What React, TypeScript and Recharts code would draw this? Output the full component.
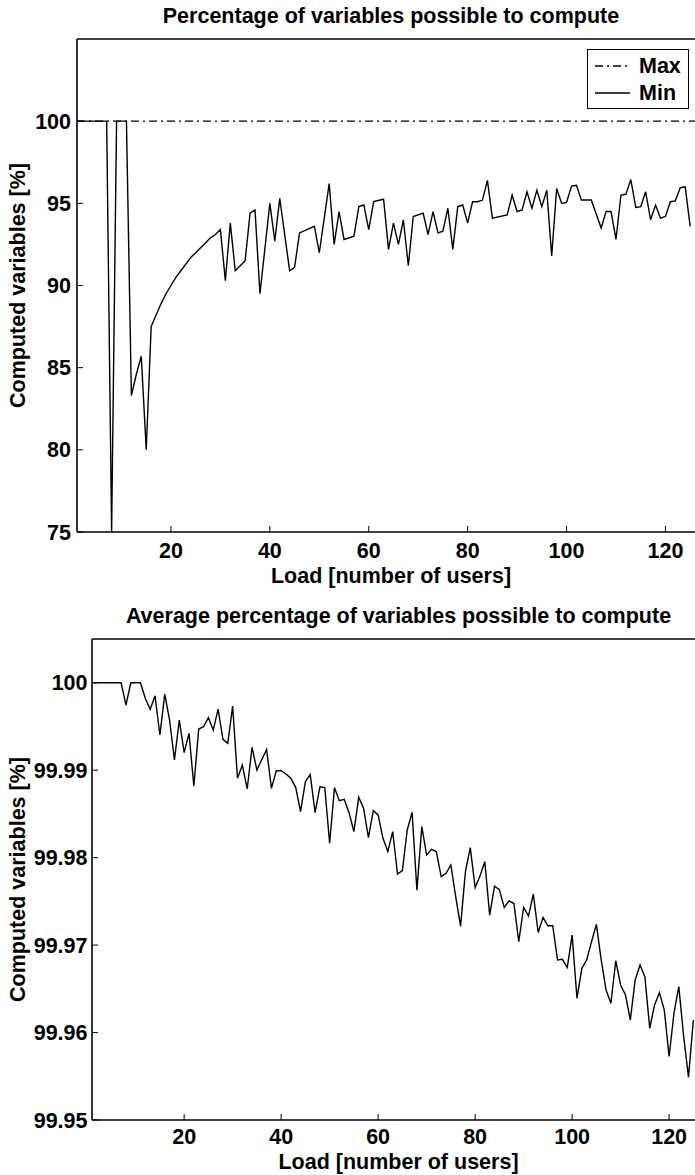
import { LineChart, Line, XAxis, YAxis, Legend, Label } from "recharts";

// Load [number of users] and the lowest share of computable variables (upper plot)
const minLoad = [
  1, 2, 3, 4, 5, 6, 7, 8, 9, 10, 11, 12, 13, 14, 15, 16, 17, 18, 19, 20, 21, 22, 23, 24, 25, 26, 27, 28, 29, 30,
  31, 32, 33, 34, 35, 36, 37, 38, 40, 41, 42, 44, 45, 46, 49, 50, 52, 53, 54, 55, 57, 58, 59, 60, 61, 63, 64, 65,
  66, 67, 68, 69, 71, 72, 73, 74, 75, 76, 77, 78, 79, 80, 81, 82, 83, 84, 85, 88, 89, 90, 91, 92, 93, 94, 95, 96,
  97, 98, 99, 100, 101, 102, 103, 105, 107, 108, 109, 110, 111, 112, 113, 114, 115, 116, 117, 118, 119, 120, 121,
  122, 123, 124, 125,
];
const minPct = [
  100, 100, 100, 100, 100, 100, 100, 75, 100, 100, 100, 83.3, 84.6, 85.7, 80, 87.5, 88.2, 88.9, 89.5, 90.0, 90.5,
  90.9, 91.3, 91.7, 92.0, 92.3, 92.6, 92.9, 93.1, 93.4,
  90.3, 93.8, 90.9, 91.2, 91.5, 94.4, 94.6, 89.5, 95.0, 92.7, 95.3, 90.9, 91.1, 93.2, 93.6, 92.0, 96.2, 92.5, 94.5,
  92.8, 93.0, 94.8, 94.9, 93.4, 95.1, 95.25, 92.2, 93.8,
  92.5, 94.0, 91.2, 94.2, 94.4, 93.1, 94.5, 93.2, 93.3, 94.7, 92.2, 94.8, 94.9, 93.8, 95.1, 95.1, 95.2, 96.4, 94.1,
  94.3, 95.5, 94.5, 94.6, 95.7, 94.7, 95.8, 94.8, 95.8,
  91.8, 95.9, 95.0, 95.05, 96.05, 96.1, 95.2, 95.2, 93.5, 94.5, 94.5, 92.8, 95.5, 95.55, 96.45, 94.75, 94.8, 95.7,
  94.0, 94.9, 94.1, 94.2, 95.1,
  95.15, 95.95, 96.0, 93.6,
];
const maxLoad = [1, 128];
const maxPct = [100, 100];

// Average share of computable variables (lower plot)
const avgLoad = [
  1, 2, 3, 4, 5, 6, 7, 8, 9, 10, 11, 12, 13, 14, 15, 16, 17, 18, 19, 20, 21, 22, 23, 24, 25, 26, 27, 28, 29, 30,
  31, 32, 33, 34, 35, 37, 38, 39, 40, 41, 42, 43, 44, 45, 46, 47, 48, 49, 50, 51, 52, 53, 54, 55, 56, 57, 58, 59,
  60, 61, 62, 63, 64, 65, 66, 67, 68, 69, 70, 71, 72, 73, 74, 75, 76, 77, 78, 79, 80, 81, 82, 83, 84, 85, 86, 87,
  88, 89, 90, 91, 92, 93, 94, 95, 96, 97, 98, 99, 100, 101, 102, 103, 104, 105, 106, 107, 108, 109, 110, 111, 112,
  113, 114, 115, 116, 117, 118, 119, 120, 121, 122, 123, 124, 125,
];
const avgPct = [
  100, 100, 100, 100, 100, 100, 100, 99.99745, 100, 100, 100, 99.9982, 99.99695, 99.99851, 99.99402, 99.9987,
  99.99573, 99.99116, 99.99573, 99.992, 99.99421, 99.98819, 99.9947, 99.99497, 99.996, 99.99459, 99.99699,
  99.99352, 99.99307, 99.99733,
  99.98907, 99.99059, 99.98785, 99.99261, 99.99002, 99.99238, 99.98792, 99.98994, 99.98994, 99.98956, 99.98907,
  99.98804, 99.98526, 99.98869, 99.98952, 99.98514, 99.98811, 99.988, 99.98164, 99.988, 99.98651, 99.98667,
  99.98514, 99.98297, 99.9869, 99.98564, 99.98229, 99.98537,
  99.98488, 99.98221, 99.98069, 99.98297, 99.97813, 99.97851, 99.98316, 99.98518, 99.97628, 99.98354, 99.9803,
  99.98095, 99.98069, 99.97783, 99.97821, 99.97916, 99.97551, 99.97217, 99.9784, 99.98114, 99.97658, 99.9779,
  99.97954, 99.97342, 99.97673, 99.97635, 99.9743, 99.97506,
  99.97475, 99.97038, 99.9743, 99.97331, 99.97582, 99.97144, 99.97316, 99.97221, 99.97221, 99.96829, 99.96837,
  99.96745, 99.97114, 99.96392, 99.96734, 99.96829, 99.97038, 99.97236, 99.96829, 99.96487, 99.96335, 99.96821,
  99.96544, 99.9643, 99.96144,
  99.96601, 99.96772, 99.96639, 99.96049, 99.96316, 99.96456, 99.96259, 99.95726, 99.96221, 99.96525, 99.95954,
  99.9549, 99.96144,
];

const loadTicks = [20, 40, 60, 80, 100, 120];
const minTicks = [75, 80, 85, 90, 95, 100];
const avgTicks = [99.95, 99.96, 99.97, 99.98, 99.99, 100];

const minSeries = minLoad.map((load, i) => ({ load, pct: minPct[i] }));
const maxSeries = maxLoad.map((load, i) => ({ load, pct: maxPct[i] }));
const avgSeries = avgLoad.map((load, i) => ({ load, pct: avgPct[i] }));

const FONT = '"Liberation Sans", Arial, Helvetica, sans-serif';
const FS = 21.5;
const textStyle = { fill: "#000", fontSize: FS, fontWeight: 700, fontFamily: FONT };
const axisLine = { stroke: "#000", strokeWidth: 1.6 };
const tickLine = { stroke: "#000", strokeWidth: 1 };

const titleAt = (text: string, baseline: number) => (props: any) => {
  const vb = props.viewBox;
  return (
    <text x={vb.x + vb.width / 2} y={baseline} textAnchor="middle" {...textStyle}>
      {text}
    </text>
  );
};

const xLabelAt = (baseline: number) => (props: any) => {
  const vb = props.viewBox;
  return (
    <text x={vb.x + vb.width / 2} y={baseline} textAnchor="middle" {...textStyle}>
      Load [number of users]
    </text>
  );
};

const yLabel = (props: any) => {
  const vb = props.viewBox;
  const x = 25;
  const y = vb.y + vb.height / 2;
  return (
    <text x={x} y={y} textAnchor="middle" transform={`rotate(-90, ${x}, ${y})`} {...textStyle}>
      Computed variables [%]
    </text>
  );
};

const legendRows = [
  { name: "Max", dash: "8 4 2 4" },
  { name: "Min", dash: undefined },
];

const renderLegend = () => (
  <div
    style={{
      position: "relative",
      width: 102,
      height: 60,
      border: "1.5px solid #000",
      boxSizing: "border-box",
      background: "#fff",
      fontFamily: FONT,
      fontWeight: 700,
      fontSize: FS,
    }}
  >
    {legendRows.map((row, i) => (
      <div
        key={row.name}
        style={{ position: "absolute", left: 6, top: 3 + i * 27, height: 26, display: "flex", alignItems: "center" }}
      >
        <svg width={36} height={26} style={{ display: "block" }}>
          <line x1={1} x2={36} y1={13} y2={13} stroke="#000" strokeWidth={1.4} strokeDasharray={row.dash} />
        </svg>
        <span style={{ marginLeft: 9, lineHeight: "26px" }}>{row.name}</span>
      </div>
    ))}
  </div>
);

export default function App() {
  return (
    <div
      style={{ position: "fixed", left: 0, top: 0, width: 695, height: 1175, overflow: "hidden", background: "#fff" }}
    >
      <div style={{ position: "absolute", left: 0, top: 0 }}>
        <LineChart width={720} height={590} margin={{ top: 0, right: 15, bottom: 0, left: 0 }}>
          <XAxis
            xAxisId="top"
            orientation="top"
            type="number"
            dataKey="load"
            domain={[1, 127.4]}
            ticks={loadTicks}
            interval={0}
            height={39}
            tick={false}
            tickSize={-6}
            axisLine={axisLine}
            tickLine={tickLine}
          >
            <Label content={titleAt("Percentage of variables possible to compute", 22.7)} />
          </XAxis>
          <XAxis
            type="number"
            dataKey="load"
            domain={[1, 127.4]}
            ticks={loadTicks}
            interval={0}
            height={58}
            tick={textStyle}
            tickSize={-6}
            tickMargin={17}
            axisLine={axisLine}
            tickLine={tickLine}
          >
            <Label content={xLabelAt(582.5)} />
          </XAxis>
          <YAxis
            type="number"
            domain={[75, 105]}
            ticks={minTicks}
            interval={0}
            width={77}
            tick={textStyle}
            tickSize={-6}
            tickMargin={12}
            axisLine={axisLine}
            tickLine={tickLine}
          >
            <Label content={yLabel} />
          </YAxis>
          <Legend
            layout="horizontal"
            verticalAlign="middle"
            align="center"
            content={renderLegend}
            wrapperStyle={{ position: "absolute", left: 587, top: 49, width: 102, height: 60 }}
          />
          <Line
            data={maxSeries}
            dataKey="pct"
            name="Max"
            type="linear"
            stroke="#000"
            strokeWidth={1.4}
            strokeDasharray="8 4 2 4"
            dot={false}
            activeDot={false}
            isAnimationActive={false}
          />
          <Line
            data={minSeries}
            dataKey="pct"
            name="Min"
            type="linear"
            stroke="#000"
            strokeWidth={1.4}
            dot={false}
            activeDot={false}
            isAnimationActive={false}
          />
        </LineChart>
      </div>

      <div style={{ position: "absolute", left: 0, top: 590 }}>
        <LineChart width={720} height={585} margin={{ top: 0, right: 15, bottom: 0, left: 0 }}>
          <XAxis
            xAxisId="top"
            orientation="top"
            type="number"
            dataKey="load"
            domain={[1, 127.4]}
            ticks={loadTicks}
            interval={0}
            height={49}
            tick={false}
            tickSize={-6}
            axisLine={axisLine}
            tickLine={tickLine}
          >
            <Label content={titleAt("Average percentage of variables possible to compute", 32.7)} />
          </XAxis>
          <XAxis
            type="number"
            dataKey="load"
            domain={[1, 127.4]}
            ticks={loadTicks}
            interval={0}
            height={55}
            tick={textStyle}
            tickSize={-6}
            tickMargin={14.5}
            axisLine={axisLine}
            tickLine={tickLine}
          >
            <Label content={xLabelAt(579)} />
          </XAxis>
          <YAxis
            type="number"
            domain={[99.95, 100.005]}
            ticks={avgTicks}
            interval={0}
            width={92}
            tick={textStyle}
            tickSize={-6}
            tickMargin={10.5}
            tickFormatter={(v: number) => (v === 100 ? "100" : v.toFixed(2))}
            axisLine={axisLine}
            tickLine={tickLine}
            allowDataOverflow
          >
            <Label content={yLabel} />
          </YAxis>
          <Line
            data={avgSeries}
            dataKey="pct"
            type="linear"
            stroke="#000"
            strokeWidth={1.4}
            dot={false}
            activeDot={false}
            isAnimationActive={false}
          />
        </LineChart>
      </div>
    </div>
  );
}
